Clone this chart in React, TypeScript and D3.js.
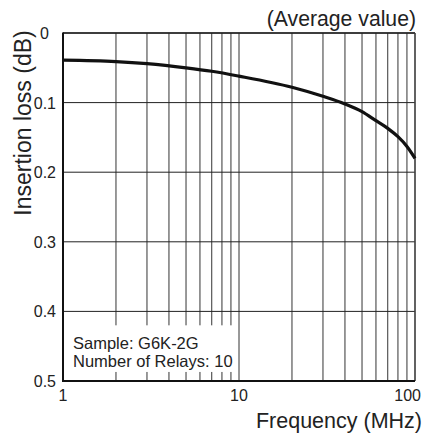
import React from "react";
import * as d3 from "d3";

const freqs = [1, 2, 3, 5, 7, 10, 20, 30, 40, 50, 60, 70, 80, 90, 100];
const losses = [0.039, 0.041, 0.044, 0.05, 0.055, 0.062, 0.078, 0.091, 0.102, 0.113, 0.126, 0.137, 0.149, 0.163, 0.18];
const xGridValues = [1, 2, 3, 4, 5, 6, 7, 8, 9, 10, 20, 30, 40, 50, 60, 70, 80, 90, 100];
const xTickLabels = [1, 10, 100];
const yTickValues = [0, 0.1, 0.2, 0.3, 0.4, 0.5];
const yTickLabels = ["0", "0.1", "0.2", "0.3", "0.4", "0.5"];
const legendLines = ["Sample: G6K-2G", "Number of Relays: 10"];

const W = 423;
const H = 434;
const M = { left: 63, right: 415, top: 33, bottom: 381 };
const FONT = "'Liberation Sans', Arial, Helvetica, sans-serif";

export default function App() {
  const x = d3.scaleLog().domain([1, 100]).range([M.left, M.right]);
  const y = d3.scaleLinear().domain([0, 0.5]).range([M.top, M.bottom]);
  const line = d3
    .line<number>()
    .x((_, i) => x(freqs[i]))
    .y((d) => y(d))
    .curve(d3.curveMonotoneX);

  const boxRight = x(9.6);
  const boxTop = y(0.42);
  const boxBottom = y(0.487);

  return (
    <svg
      width={W}
      height={H}
      style={{ position: "absolute", left: 0, top: 0, display: "block", background: "#fff" }}
      fontFamily={FONT}
    >
      {xGridValues.map((v) => (
        <line key={"vx" + v} x1={x(v)} x2={x(v)} y1={M.top} y2={M.bottom} stroke="#333" strokeWidth={1} />
      ))}
      {yTickValues.map((v) => (
        <line key={"hy" + v} x1={M.left} x2={M.right} y1={y(v)} y2={y(v)} stroke="#222" strokeWidth={1} />
      ))}
      <rect x={M.left + 1} y={boxTop} width={boxRight - M.left - 1} height={boxBottom - boxTop} fill="#fff" />
      {legendLines.map((t, i) => (
        <text key={t} x={M.left + 10} y={boxTop + 24 + i * 18} fontSize={16.5} fill="#222">
          {t}
        </text>
      ))}
      <line x1={M.left} x2={M.right} y1={M.top} y2={M.top} stroke="#222" strokeWidth={1.3} />
      <line x1={M.right} x2={M.right} y1={M.top} y2={M.bottom} stroke="#444" strokeWidth={1.3} />
      <line x1={M.left} x2={M.left} y1={M.top - 0.6} y2={M.bottom + 1} stroke="#111" strokeWidth={2} />
      <line x1={M.left} x2={M.right} y1={M.bottom} y2={M.bottom} stroke="#111" strokeWidth={2} />
      <path d={line(losses) || ""} fill="none" stroke="#111" strokeWidth={3.2} strokeLinejoin="round" />
      {yTickValues.map((v, i) => (
        <text
          key={"yl" + v}
          x={i === 0 ? 49 : 56}
          y={y(v) + 6}
          fontSize={16}
          textAnchor="end"
          fill="#222"
        >
          {yTickLabels[i]}
        </text>
      ))}
      {xTickLabels.map((v, i) => (
        <text
          key={"xl" + v}
          x={i === xTickLabels.length - 1 ? x(v) + 6 : x(v)}
          y={401}
          fontSize={16}
          textAnchor={i === xTickLabels.length - 1 ? "end" : "middle"}
          fill="#222"
        >
          {v}
        </text>
      ))}
      <text x={422} y={428} fontSize={21.5} textAnchor="end" fill="#222">
        Frequency (MHz)
      </text>
      <text
        transform={`translate(30.5, ${(M.top + 213) / 2}) rotate(-90)`}
        textAnchor="middle"
        fontSize={23}
        fill="#222"
      >
        Insertion loss (dB)
      </text>
      <text x={416} y={26} fontSize={21.2} textAnchor="end" fill="#222">
        (Average value)
      </text>
    </svg>
  );
}
